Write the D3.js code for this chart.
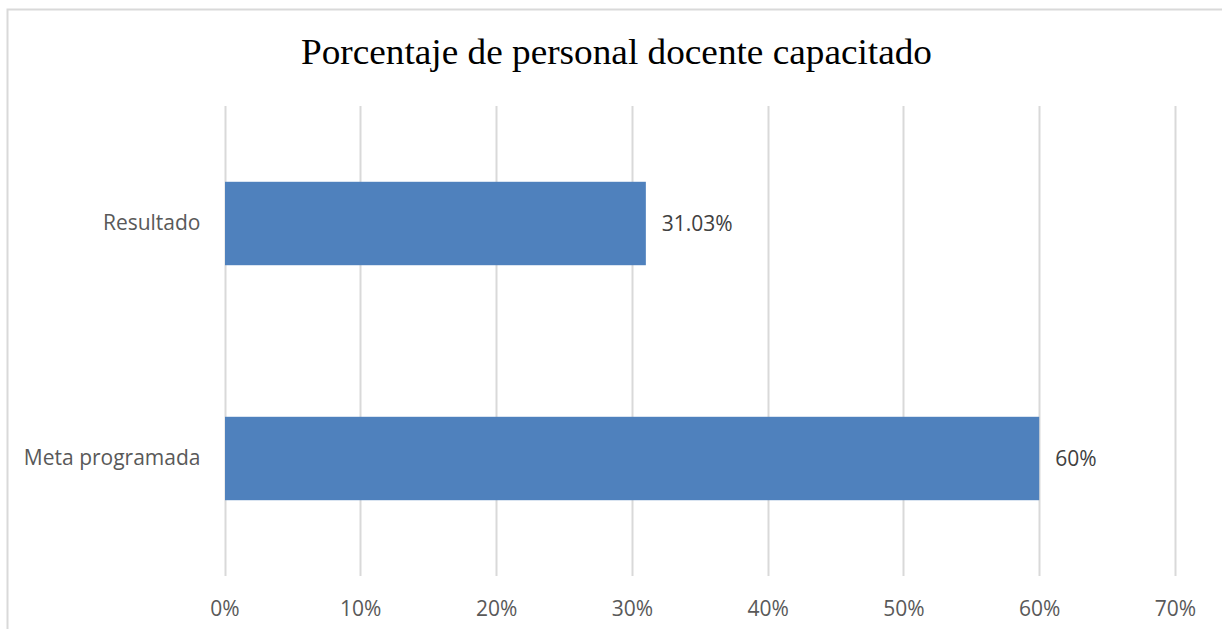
<!DOCTYPE html>
<html>
<head>
<meta charset="utf-8">
<script src="https://cdn.jsdelivr.net/npm/d3@7"></script>
<style>
  body { margin: 0; background: #fff; }
</style>
</head>
<body>
<div id="chart"></div>
<script>
// Chart data
var categories = ["Resultado", "Meta programada"];
var values = [31.03, 60];
var valueLabels = ["31.03%", "60%"];
var xTicks = [0, 10, 20, 30, 40, 50, 60, 70];

var width = 1222, height = 629;
var margin = { top: 106, right: 47, bottom: 53, left: 224.5 };

var svg = d3.select("#chart")
    .append("svg")
    .attr("width", width)
    .attr("height", height);

// Outer chart border (cut off at right and bottom like the reference)
svg.append("rect")
    .attr("x", 7.5)
    .attr("y", 9.5)
    .attr("width", width + 20)
    .attr("height", height + 20)
    .style("fill", "none")
    .style("stroke", "#d9d9d9")
    .style("stroke-width", 2);

// Title
svg.append("text")
    .attr("x", 301)
    .attr("y", 64)
    .attr("textLength", 631)
    .attr("lengthAdjust", "spacingAndGlyphs")
    .style("font-family", "'Liberation Serif', 'Times New Roman', serif")
    .style("font-size", "36px")
    .style("fill", "#000")
    .text("Porcentaje de personal docente capacitado");

var xScale = d3.scaleLinear()
    .domain([0, 70])
    .range([margin.left, width - margin.right]);

var yScale = d3.scaleBand()
    .domain(categories)
    .range([margin.top, height - margin.bottom])
    .paddingInner(0.645)
    .paddingOuter(0.3225);

// Vertical gridlines
svg.append("g")
    .selectAll("line")
    .data(xTicks)
    .enter().append("line")
    .attr("x1", function (d) { return Math.round(xScale(d)) + 0.5; })
    .attr("x2", function (d) { return Math.round(xScale(d)) + 0.5; })
    .attr("y1", margin.top)
    .attr("y2", height - margin.bottom)
    .style("stroke", "#d9d9d9")
    .style("stroke-width", 2);

// X axis tick labels
var xAxis = svg.append("g")
    .attr("transform", "translate(0," + (height - margin.bottom) + ")")
    .call(d3.axisBottom(xScale)
        .tickValues(xTicks)
        .tickSize(0)
        .tickPadding(25)
        .tickFormat(function (d) { return d + "%"; }));
xAxis.select(".domain").remove();
xAxis.selectAll("text")
    .style("font-family", "'Open Sans', sans-serif")
    .style("font-size", "21px")
    .style("fill", "#595959");

// Category labels
var yAxis = svg.append("g")
    .attr("transform", "translate(" + (margin.left - 24) + ",0)")
    .call(d3.axisLeft(yScale).tickSize(0).tickPadding(0));
yAxis.select(".domain").remove();
yAxis.selectAll("text")
    .style("font-family", "'Open Sans', sans-serif")
    .style("font-size", "21px")
    .style("fill", "#595959");

// Bars
svg.selectAll(".bar")
    .data(values)
    .enter().append("rect")
    .attr("class", "bar")
    .attr("x", xScale(0) + 0.5)
    .attr("y", function (d, i) { return yScale(categories[i]); })
    .attr("width", function (d) { return xScale(d) - xScale(0) - 0.5; })
    .attr("height", yScale.bandwidth())
    .style("fill", "#4f81bd");

// Value labels
svg.selectAll(".bar-label")
    .data(values)
    .enter().append("text")
    .attr("class", "bar-label")
    .attr("x", function (d) { return xScale(d) + 16; })
    .attr("y", function (d, i) { return yScale(categories[i]) + yScale.bandwidth() / 2; })
    .attr("dy", "0.35em")
    .style("font-family", "'Open Sans', sans-serif")
    .style("font-size", "21px")
    .style("fill", "#404040")
    .text(function (d, i) { return valueLabels[i]; });
</script>
</body>
</html>
